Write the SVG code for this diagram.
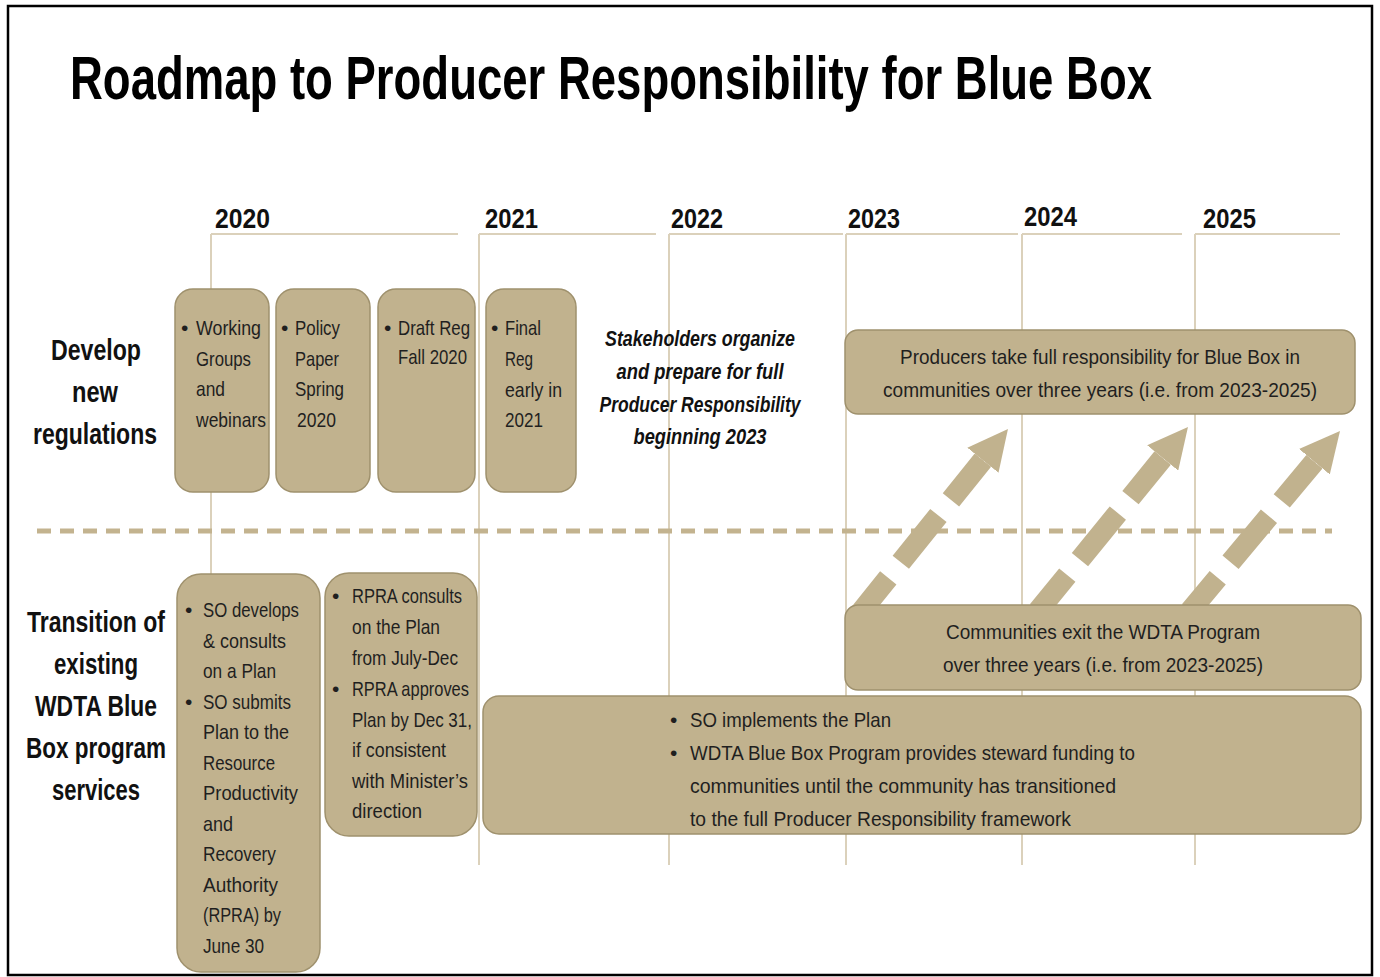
<svg xmlns="http://www.w3.org/2000/svg" width="1380" height="977" viewBox="0 0 1380 977">
<defs>
<style>
.box{fill:#c1b28e;stroke:#9f916d;stroke-width:1.5}
.grid{stroke:#dbd1bb;stroke-width:2;fill:none}
.sep{stroke:#c3b38f;stroke-width:5;stroke-dasharray:14 9;fill:none}
.arrow{stroke:#c1b28e;stroke-width:21;stroke-dasharray:60 20;stroke-dashoffset:9;fill:none;marker-start:url(#ah)}
text{font-family:"Liberation Sans",Arial,sans-serif;fill:#1f1f1f}
.bt{font-size:21px}
.c{text-anchor:middle}
.lbl{font-size:29px;font-weight:bold;fill:#111;text-anchor:middle}
.yr{font-size:28px;font-weight:bold;fill:#111}
.it{font-size:22px;font-weight:bold;font-style:italic;fill:#111;text-anchor:middle}
.title{font-size:61px;font-weight:bold;fill:#000}
</style>
<marker id="ah" markerUnits="userSpaceOnUse" viewBox="0 0 40 40" refX="0" refY="20" markerWidth="40" markerHeight="40" orient="auto-start-reverse">
<path d="M0,0 L40,20 L0,40 z" fill="#c1b28e" stroke="none"/>
</marker>
</defs>
<rect x="0" y="0" width="1380" height="977" fill="#fff"/>
<rect x="8" y="6" width="1364" height="969" fill="none" stroke="#000" stroke-width="2.5"/>

<text class="title" transform="translate(70,99) scale(0.76,1)" x="0" y="0" textLength="1423.7" lengthAdjust="spacingAndGlyphs">Roadmap to Producer Responsibility for Blue Box</text>

<g id="timeline">
<path class="grid" d="M211,234H458M479,234H656M669,234H843M846,234H1018M1022,234H1182M1195,234H1340"/>
<path class="grid" d="M211,234V865M479,234V865M669,234V865M846,234V865M1022,234V865M1195,234V865"/>
<text class="yr" x="215" y="228" textLength="55" lengthAdjust="spacingAndGlyphs">2020</text>
<text class="yr" x="485" y="228" textLength="53" lengthAdjust="spacingAndGlyphs">2021</text>
<text class="yr" x="671" y="228" textLength="52" lengthAdjust="spacingAndGlyphs">2022</text>
<text class="yr" x="848" y="228" textLength="52" lengthAdjust="spacingAndGlyphs">2023</text>
<text class="yr" x="1024" y="226" textLength="53" lengthAdjust="spacingAndGlyphs">2024</text>
<text class="yr" x="1203" y="228" textLength="53" lengthAdjust="spacingAndGlyphs">2025</text>
</g>

<path class="sep" d="M37,531H1332"/>

<g id="row-labels">
<text class="lbl" transform="translate(96,360) scale(0.79,1)" textLength="113.9" lengthAdjust="spacingAndGlyphs">Develop</text>
<text class="lbl" transform="translate(95,402) scale(0.79,1)" textLength="58.2" lengthAdjust="spacingAndGlyphs">new</text>
<text class="lbl" transform="translate(95,444) scale(0.79,1)" textLength="157" lengthAdjust="spacingAndGlyphs">regulations</text>
<text class="lbl" transform="translate(96,632) scale(0.77,1)" textLength="179.2" lengthAdjust="spacingAndGlyphs">Transition of</text>
<text class="lbl" transform="translate(96,674) scale(0.77,1)" textLength="109.1" lengthAdjust="spacingAndGlyphs">existing</text>
<text class="lbl" transform="translate(96,716) scale(0.77,1)" textLength="158.4" lengthAdjust="spacingAndGlyphs">WDTA Blue</text>
<text class="lbl" transform="translate(96,758) scale(0.77,1)" textLength="181.8" lengthAdjust="spacingAndGlyphs">Box program</text>
<text class="lbl" transform="translate(96,800) scale(0.77,1)" textLength="114.3" lengthAdjust="spacingAndGlyphs">services</text>
</g>

<g id="connectors">
<path class="arrow" d="M982.9,460.2 L860,613"/>
<path class="arrow" d="M1162.7,458 L1038,611"/>
<path class="arrow" d="M1314.4,461.7 L1190,611"/>
</g>

<g id="working-groups">
<rect class="box" x="175" y="289" width="94" height="203" rx="18"/>
<text class="bt" x="181" y="335">•</text>
<text class="bt" x="196" y="335" textLength="65" lengthAdjust="spacingAndGlyphs">Working</text>
<text class="bt" x="196" y="366" textLength="55" lengthAdjust="spacingAndGlyphs">Groups</text>
<text class="bt" x="196" y="396" textLength="29" lengthAdjust="spacingAndGlyphs">and</text>
<text class="bt" x="196" y="427" textLength="70" lengthAdjust="spacingAndGlyphs">webinars</text>
</g>

<g id="policy-paper">
<rect class="box" x="276" y="289" width="94" height="203" rx="18"/>
<text class="bt" x="281" y="335">•</text>
<text class="bt" x="295" y="335" textLength="45" lengthAdjust="spacingAndGlyphs">Policy</text>
<text class="bt" x="295" y="366" textLength="44" lengthAdjust="spacingAndGlyphs">Paper</text>
<text class="bt" x="295" y="396" textLength="49" lengthAdjust="spacingAndGlyphs">Spring</text>
<text class="bt" x="297" y="427" textLength="39" lengthAdjust="spacingAndGlyphs">2020</text>
</g>

<g id="draft-reg">
<rect class="box" x="378" y="289" width="97" height="203" rx="18"/>
<text class="bt" x="384" y="335">•</text>
<text class="bt" x="398" y="335" textLength="72" lengthAdjust="spacingAndGlyphs">Draft Reg</text>
<text class="bt" x="398" y="364" textLength="69" lengthAdjust="spacingAndGlyphs">Fall 2020</text>
</g>

<g id="final-reg">
<rect class="box" x="486" y="289" width="90" height="203" rx="18"/>
<text class="bt" x="491" y="335">•</text>
<text class="bt" x="505" y="335" textLength="36" lengthAdjust="spacingAndGlyphs">Final</text>
<text class="bt" x="505" y="366" textLength="28" lengthAdjust="spacingAndGlyphs">Reg</text>
<text class="bt" x="505" y="397" textLength="57" lengthAdjust="spacingAndGlyphs">early in</text>
<text class="bt" x="505" y="427" textLength="38" lengthAdjust="spacingAndGlyphs">2021</text>
</g>

<g id="stakeholders">
<text class="it" x="700" y="346" textLength="190" lengthAdjust="spacingAndGlyphs">Stakeholders organize</text>
<text class="it" x="700" y="379" textLength="167" lengthAdjust="spacingAndGlyphs">and prepare for full</text>
<text class="it" x="700" y="412" textLength="201" lengthAdjust="spacingAndGlyphs">Producer Responsibility</text>
<text class="it" x="700" y="444" textLength="133" lengthAdjust="spacingAndGlyphs">beginning 2023</text>
</g>

<g id="producers">
<rect class="box" x="845" y="330" width="510" height="84" rx="13"/>
<text class="bt c" x="1100" y="364" textLength="400" lengthAdjust="spacingAndGlyphs">Producers take full responsibility for Blue Box in</text>
<text class="bt c" x="1100" y="397" textLength="434" lengthAdjust="spacingAndGlyphs">communities over three years (i.e. from 2023-2025)</text>
</g>

<g id="so-develops">
<rect class="box" x="177" y="574" width="143" height="398" rx="24"/>
<text class="bt" x="185" y="617">•</text>
<text class="bt" x="203" y="617" textLength="96" lengthAdjust="spacingAndGlyphs">SO develops</text>
<text class="bt" x="203" y="647.5" textLength="83" lengthAdjust="spacingAndGlyphs">&amp; consults</text>
<text class="bt" x="203" y="678" textLength="73" lengthAdjust="spacingAndGlyphs">on a Plan</text>
<text class="bt" x="185" y="708.5">•</text>
<text class="bt" x="203" y="708.5" textLength="88" lengthAdjust="spacingAndGlyphs">SO submits</text>
<text class="bt" x="203" y="739" textLength="86" lengthAdjust="spacingAndGlyphs">Plan to the</text>
<text class="bt" x="203" y="769.5" textLength="72" lengthAdjust="spacingAndGlyphs">Resource</text>
<text class="bt" x="203" y="800" textLength="95" lengthAdjust="spacingAndGlyphs">Productivity</text>
<text class="bt" x="203" y="830.5" textLength="30" lengthAdjust="spacingAndGlyphs">and</text>
<text class="bt" x="203" y="861" textLength="73" lengthAdjust="spacingAndGlyphs">Recovery</text>
<text class="bt" x="203" y="891.5" textLength="75" lengthAdjust="spacingAndGlyphs">Authority</text>
<text class="bt" x="203" y="922" textLength="78" lengthAdjust="spacingAndGlyphs">(RPRA) by</text>
<text class="bt" x="203" y="952.5" textLength="61" lengthAdjust="spacingAndGlyphs">June 30</text>
</g>

<g id="rpra-consults">
<rect class="box" x="325" y="573" width="152" height="263" rx="24"/>
<text class="bt" x="332" y="603">•</text>
<text class="bt" x="352" y="603" textLength="110" lengthAdjust="spacingAndGlyphs">RPRA consults</text>
<text class="bt" x="352" y="634" textLength="88" lengthAdjust="spacingAndGlyphs">on the Plan</text>
<text class="bt" x="352" y="665" textLength="106" lengthAdjust="spacingAndGlyphs">from July-Dec</text>
<text class="bt" x="332" y="696">•</text>
<text class="bt" x="352" y="696" textLength="117" lengthAdjust="spacingAndGlyphs">RPRA approves</text>
<text class="bt" x="352" y="727" textLength="120" lengthAdjust="spacingAndGlyphs">Plan by Dec 31,</text>
<text class="bt" x="352" y="757" textLength="94" lengthAdjust="spacingAndGlyphs">if consistent</text>
<text class="bt" x="352" y="788" textLength="116" lengthAdjust="spacingAndGlyphs">with Minister’s</text>
<text class="bt" x="352" y="818" textLength="70" lengthAdjust="spacingAndGlyphs">direction</text>
</g>

<g id="communities-exit">
<rect class="box" x="845" y="605" width="516" height="85" rx="13"/>
<text class="bt c" x="1103" y="639" textLength="314" lengthAdjust="spacingAndGlyphs">Communities exit the WDTA Program</text>
<text class="bt c" x="1103" y="672" textLength="320" lengthAdjust="spacingAndGlyphs">over three years (i.e. from 2023-2025)</text>
</g>

<g id="so-implements">
<rect class="box" x="483" y="696" width="878" height="138" rx="16"/>
<text class="bt" x="670" y="727">•</text>
<text class="bt" x="690" y="727" textLength="201" lengthAdjust="spacingAndGlyphs">SO implements the Plan</text>
<text class="bt" x="670" y="760">•</text>
<text class="bt" x="690" y="760" textLength="445" lengthAdjust="spacingAndGlyphs">WDTA Blue Box Program provides steward funding to</text>
<text class="bt" x="690" y="793" textLength="426" lengthAdjust="spacingAndGlyphs">communities until the community has transitioned</text>
<text class="bt" x="690" y="826" textLength="381" lengthAdjust="spacingAndGlyphs">to the full Producer Responsibility framework</text>
</g>
</svg>
